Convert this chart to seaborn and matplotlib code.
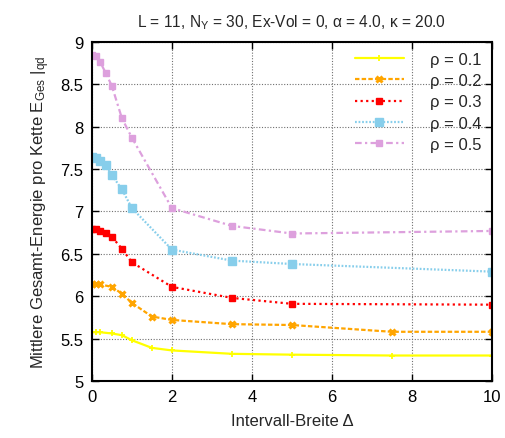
import matplotlib
matplotlib.use("Agg")
import matplotlib.pyplot as plt
import numpy as np
import pandas as pd
import seaborn as sns

# Interval width Delta and mean total energy per chain for each density rho
x_r1 = [0, 0.1, 0.2, 0.5, 0.75, 1, 1.5, 2, 3.5, 5, 7.5, 10]
e_r1 = [5.575, 5.575, 5.575, 5.56, 5.54, 5.48, 5.39, 5.36, 5.32, 5.31, 5.30, 5.30]

x_r2 = [0, 0.1, 0.2, 0.5, 0.75, 1, 1.5, 2, 3.5, 5, 7.5, 10]
e_r2 = [6.14, 6.14, 6.14, 6.11, 6.03, 5.92, 5.76, 5.72, 5.67, 5.66, 5.58, 5.58]

x_r3 = [0, 0.1, 0.2, 0.35, 0.5, 0.75, 1, 2, 3.5, 5, 10]
e_r3 = [6.79, 6.79, 6.77, 6.75, 6.70, 6.56, 6.40, 6.11, 5.98, 5.91, 5.90]

x_r4 = [0, 0.1, 0.2, 0.35, 0.5, 0.75, 1, 2, 3.5, 5, 10]
e_r4 = [7.64, 7.63, 7.60, 7.55, 7.43, 7.26, 7.04, 6.55, 6.42, 6.38, 6.29]

x_r5 = [0, 0.1, 0.2, 0.35, 0.5, 0.75, 1, 2, 3.5, 5, 10]
e_r5 = [8.85, 8.83, 8.77, 8.63, 8.48, 8.10, 7.87, 7.04, 6.83, 6.74, 6.77]

labels = ["ρ = 0.1", "ρ = 0.2", "ρ = 0.3", "ρ = 0.4", "ρ = 0.5"]
x_ticks = [0, 2, 4, 6, 8, 10]
y_ticks = [5, 5.5, 6, 6.5, 7, 7.5, 8, 8.5, 9]

sns.set_style("ticks")
plt.rcParams['font.family'] = ['Liberation Sans', 'DejaVu Sans']
plt.rcParams['mathtext.fontset'] = 'custom'
plt.rcParams['mathtext.rm'] = 'Liberation Sans'
plt.rcParams['mathtext.it'] = 'Liberation Sans'
plt.rcParams['mathtext.default'] = 'regular'

fig = plt.figure(figsize=(5.05, 4.39), dpi=100)
ax = fig.add_axes([0.182, 0.130, 0.792, 0.772])

styles = [
    dict(color="#ffff00", linestyle="-", marker="+", markersize=5, mew=1.3),
    dict(color="#ffa500", linestyle=(0, (2.0, 1.0)), marker="x", markersize=4.5, mew=2.2),
    dict(color="#ff0000", linestyle=(0, (1.0, 1.5)), marker="s", markersize=4.5, mew=1),
    dict(color="#87ceeb", linestyle=(0, (0.8, 0.8)), marker="s", markersize=5.5, mew=1),
    dict(color="#dda0dd", linestyle=(0, (3.0, 1.5, 1.0, 1.5)), marker="s", markersize=4.5, mew=1),
]
series = [(x_r1, e_r1), (x_r2, e_r2), (x_r3, e_r3), (x_r4, e_r4), (x_r5, e_r5)]

for (xs, ys), lab, st in zip(series, labels, styles):
    df = pd.DataFrame({"delta": xs, "energy": ys})
    sns.lineplot(data=df, x="delta", y="energy", ax=ax, label=lab,
                 estimator=None, sort=False, lw=1.6,
                 markeredgecolor=st["color"], **st)

ax.set_xlim(0, 10)
ax.set_ylim(5, 9)
ax.set_xticks(x_ticks)
ax.set_yticks(y_ticks)
ax.set_xticklabels([f"{t:g}" for t in x_ticks])
ax.set_yticklabels([f"{t:g}" for t in y_ticks])
ax.tick_params(direction="in", length=5, width=1, top=True, right=True,
               labelsize=12, pad=6, colors="black")
for sp in ax.spines.values():
    sp.set_linewidth(1.5)
    sp.set_color("black")
ax.grid(True, color="#707070", linestyle=(0, (1, 1.5)), linewidth=0.8)
ax.set_axisbelow(True)

ax.set_xlabel("Intervall-Breite Δ", fontsize=12, labelpad=6)
ax.set_ylabel("Mittlere Gesamt-Energie pro Kette E$_{Ges}$ |$_{qd}$", fontsize=12, labelpad=6)
ax.set_title("L = 11, N$_{Y}$ = 30, Ex-Vol = 0, α = 4.0, κ = 20.0", fontsize=11.2, pad=11)

ax.legend(loc="upper right", frameon=False, fontsize=12, handlelength=2.9,
          handletextpad=1.6, labelspacing=0.37, numpoints=1,
          borderaxespad=0.4, borderpad=0.2)

fig.savefig("out.png", dpi=100)
